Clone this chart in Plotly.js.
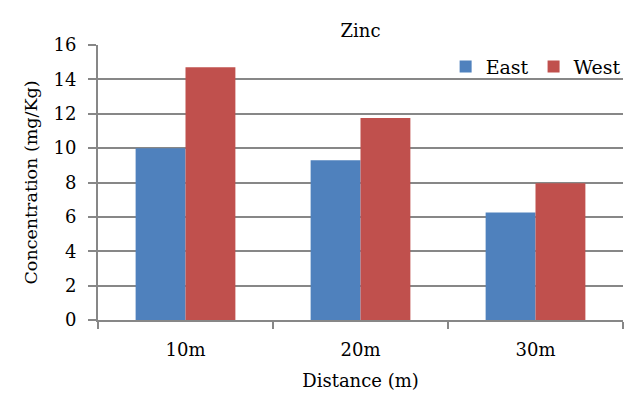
<!DOCTYPE html>
<html>
<head>
<meta charset="utf-8">
<script src="https://cdn.plot.ly/plotly-3.0.1.min.js"></script>
<style>
  html, body { margin: 0; padding: 0; background: #fff; }
  #chart { width: 635px; height: 404px; }
</style>
</head>
<body>
<div id="chart"></div>
<script>
// distances along the transect
var distances = ["10m", "20m", "30m"];
// zinc concentration (mg/Kg)
var eastValues = [10.0, 9.3, 6.25];
var westValues = [14.7, 11.75, 7.95];

var serif = "DejaVu Serif, Liberation Serif, serif";
var gray = "#878787";

var eastTrace = {
  x: distances,
  y: eastValues,
  type: "bar",
  name: "East",
  marker: { color: "#4F81BD" }
};

var westTrace = {
  x: distances,
  y: westValues,
  type: "bar",
  name: "West",
  marker: { color: "#C0504D" }
};

var layout = {
  width: 635,
  height: 404,
  margin: { l: 98, r: 9, t: 45, b: 84 },
  paper_bgcolor: "#fff",
  plot_bgcolor: "#fff",
  font: { family: serif, size: 17, color: "#000" },
  title: {
    text: "Zinc",
    font: { family: serif, size: 18, color: "#000" },
    xref: "paper",
    x: 0.5,
    xanchor: "center",
    yref: "container",
    y: 0.925,
    yanchor: "middle"
  },
  barmode: "group",
  bargap: 0.43,
  bargroupgap: 0,
  showlegend: true,
  legend: {
    orientation: "h",
    x: 1.005,
    xanchor: "right",
    y: 0.99,
    yanchor: "top",
    bgcolor: "rgba(255,255,255,0)",
    font: { family: serif, size: 19, color: "#000" },
    itemwidth: 30,
    traceorder: "normal"
  },
  xaxis: {
    type: "category",
    showline: true,
    linecolor: gray,
    linewidth: 2,
    ticks: "outside",
    tickson: "boundaries",
    ticklen: 7,
    tickcolor: gray,
    tickwidth: 2,
    showgrid: false,
    ticklabelstandoff: 12,
    tickfont: { family: serif, size: 18, color: "#000" },
    title: {
      text: "Distance (m)",
      font: { family: serif, size: 18, color: "#000" },
      standoff: 16
    },
    fixedrange: true
  },
  yaxis: {
    range: [0, 16],
    dtick: 2,
    showline: true,
    linecolor: gray,
    linewidth: 2,
    ticks: "outside",
    ticklen: 8,
    tickcolor: gray,
    tickwidth: 2,
    showgrid: true,
    gridcolor: gray,
    gridwidth: 2,
    zeroline: false,
    ticklabelstandoff: 8,
    tickfont: { family: serif, size: 18, color: "#000" },
    title: {
      text: "Concentration (mg/Kg)",
      font: { family: serif, size: 17.5, color: "#000" },
      standoff: 11
    },
    fixedrange: true
  }
};

Plotly.newPlot("chart", [eastTrace, westTrace], layout, { displayModeBar: false, staticPlot: true });
</script>
</body>
</html>
